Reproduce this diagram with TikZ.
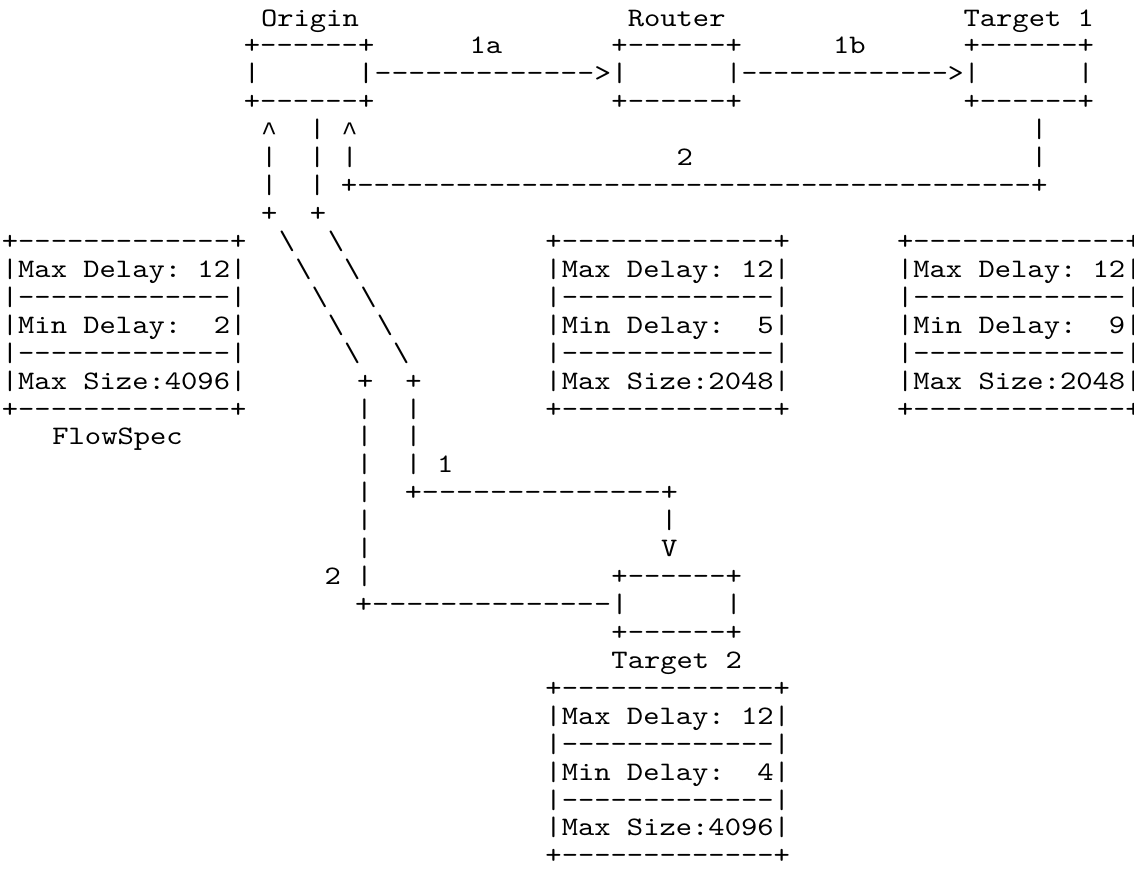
\documentclass[tikz,border=0pt]{standalone}
\usepackage{graphicx}
\usepackage{fontspec}
\newfontfamily\ascfont{lmmono10-regular.otf}[FakeStretch=1.1643, Ligatures={TeXOff}]
\newfontfamily\caretfont{Liberation Mono}
\ExplSyntaxOn
\cs_new:Npn \asdash #1 { \prg_replicate:nn {#1} {-} }
\ExplSyntaxOff
\newcount\tkn
% token: row, column (cell index, may be fractional), text
\newcommand\tk[3]{%
  \global\advance\tkn by 1
  \node[txt] (n\the\tkn) at ({1.85+16.3*(#2)},{26+27.93*(#1)}) {#3};}
% spread token: row, first-char column, last-char column, number of chars, text
\newcommand\tks[5]{%
  \pgfmathsetmacro\tkf{((#3)-(#2))/((#4)-1)}%
  \global\advance\tkn by 1
  \node[txt] (n\the\tkn) at ({10+16.3*((#2)-0.5*\tkf)},{26+27.93*(#1)}) {\scalebox{\tkf}[1]{#5}};}
\newcommand\caretglyph{\raisebox{-2pt}{\caretfont\fontsize{20pt}{20pt}\selectfont\string^}}
\newcommand\fsbox[4]{%
  \tk{#1}{#2}{+\asdash{13}+}
  \tk{#1+1}{#2}{|Max}\tk{#1+1}{#2+5}{Delay:}\tk{#1+1}{#2+12}{12|}
  \tk{#1+2}{#2}{|\asdash{13}|}
  \tk{#1+3}{#2}{|Min}\tk{#1+3}{#2+5}{Delay:}\tk{#1+3}{#2+13}{#3|}
  \tk{#1+4}{#2}{|\asdash{13}|}
  \tk{#1+5}{#2}{|Max}\tk{#1+5}{#2+5}{Size:#4|}
  \tk{#1+6}{#2}{+\asdash{13}+}}
\begin{document}
\begin{tikzpicture}[x=0.75pt,y=-0.75pt,
  txt/.style={anchor=base west,inner sep=0pt,outer sep=0pt,
    font=\ascfont\fontsize{20pt}{20pt}\selectfont}]
\fill[white] (0,0) rectangle (1134,872);
\useasboundingbox (0,0) rectangle (1134,872);
% row 0
\tk{0}{15.9}{Origin}\tk{0}{38.4}{Router}\tk{0}{59}{Target}\tk{0}{66}{1}
% row 1
\tk{1}{14.85}{+\asdash{6}+}\tk{1}{28.7}{1a}\tk{1}{37.4}{+\asdash{6}+}\tk{1}{51}{1b}\tk{1}{59}{+\asdash{6}+}
% row 2
\tk{2}{14.85}{|}\tks{2}{21.85}{37.4}{16}{|\asdash{13}>|}\tks{2}{44.4}{59}{16}{|\asdash{13}>|}\tk{2}{66}{|}
% row 3
\tk{3}{14.85}{+\asdash{6}+}\tk{3}{37.4}{+\asdash{6}+}\tk{3}{59}{+\asdash{6}+}
% row 4
\tk{4}{15.9}{\caretglyph}\tk{4}{18.85}{|}\tk{4}{20.85}{\caretglyph}\tk{4}{63.15}{|}
% row 5
\tk{5}{15.9}{|}\tk{5}{18.85}{|}\tk{5}{20.85}{|}\tk{5}{41.4}{2}\tk{5}{63.15}{|}
% row 6
\tk{6}{15.9}{|}\tk{6}{18.85}{|}\tks{6}{20.8}{63.15}{43}{+\asdash{41}+}
% row 7
\tk{7}{15.9}{+}\tk{7}{18.9}{+}
% rows 8-12 diagonals
\tk{8}{17}{\textbackslash}\tk{8}{20}{\textbackslash}
\tk{9}{18}{\textbackslash}\tk{9}{21}{\textbackslash}
\tk{10}{19}{\textbackslash}\tk{10}{22}{\textbackslash}
\tk{11}{20}{\textbackslash}\tk{11}{23}{\textbackslash}
\tk{12}{21}{\textbackslash}\tk{12}{24}{\textbackslash}
% flowspec boxes
\fsbox{8}{0}{2}{4096}
\fsbox{8}{33.35}{5}{2048}
\fsbox{8}{54.92}{9}{2048}
\fsbox{24}{33.35}{4}{4096}
% rows 13-16
\tk{13}{21.8}{+}\tk{13}{24.75}{+}
\tk{14}{21.75}{|}\tk{14}{24.75}{|}
\tk{15}{3.1}{FlowSpec}\tk{15}{21.75}{|}\tk{15}{24.75}{|}
\tk{16}{21.75}{|}\tk{16}{24.75}{|}\tk{16}{26.7}{1}
% rows 17-23
\tk{17}{21.75}{|}\tks{17}{24.75}{40.45}{16}{+\asdash{14}+}
\tk{18}{21.75}{|}\tk{18}{40.45}{|}
\tk{19}{21.75}{|}\tk{19}{40.45}{V}
\tk{20}{19.8}{2}\tk{20}{21.75}{|}\tk{20}{37.4}{+\asdash{6}+}
\tks{21}{21.7}{37.4}{16}{+\asdash{14}|}\tk{21}{44.4}{|}
\tk{22}{37.4}{+\asdash{6}+}
\tk{23}{37.4}{Target}\tk{23}{44.4}{2}
\end{tikzpicture}
\end{document}
